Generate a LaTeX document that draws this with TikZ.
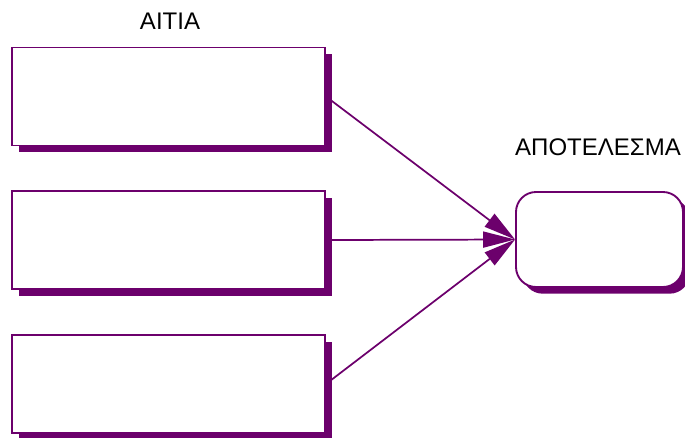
\documentclass[tikz,border=0pt]{standalone}
\usepackage{fontspec}
\setmainfont{Liberation Sans}
\usetikzlibrary{shadows,arrows.meta}

\definecolor{plum}{RGB}{108,0,108}

\tikzset{every picture/.style={line width=0.75pt}}
\tikzset{
  causebox/.style={draw=plum, line width=1.4pt, fill=white, inner sep=0pt,
    minimum width=234.75pt, minimum height=73.5pt,
    drop shadow={shadow xshift=5pt, shadow yshift=-5pt, fill=plum, opacity=1}},
  effectbox/.style={causebox, rounded corners=15pt,
    minimum width=125.25pt, minimum height=71.25pt},
  causearrow/.style={draw=plum, line width=1.3pt, -{Triangle[length=24pt,width=12pt]}},
  heading/.style={font=\fontsize{18}{21}\selectfont, inner sep=0pt}
}

\begin{document}
\begin{tikzpicture}[x=0.75pt,y=0.75pt,yscale=-1,xscale=1]
	\useasboundingbox (0,0) rectangle (685,437);

	%Shape: Rectangle [causes]
	\node[causebox] (cause1) at (168.5,96.5) {};
	\node[causebox] (cause2) at (168.5,240) {};
	\node[causebox] (cause3) at (168.5,384) {};
	%Shape: Rounded Rect [effect]
	\node[effectbox] (effect) at (599.5,239.5) {};

	%Straight Lines
	\draw[causearrow] (cause1.east) -- (effect.west);
	\draw[causearrow] (cause2.east) -- (effect.west);
	\draw[causearrow] (cause3.east) -- (effect.west);

	% Text Node
	\node[heading] (causelabel) at (170,21) {ΑΙΤΙΑ};
	% Text Node
	\node[heading] (effectlabel) at (598,147) {ΑΠΟΤΕΛΕΣΜΑ};

\end{tikzpicture}
\end{document}
